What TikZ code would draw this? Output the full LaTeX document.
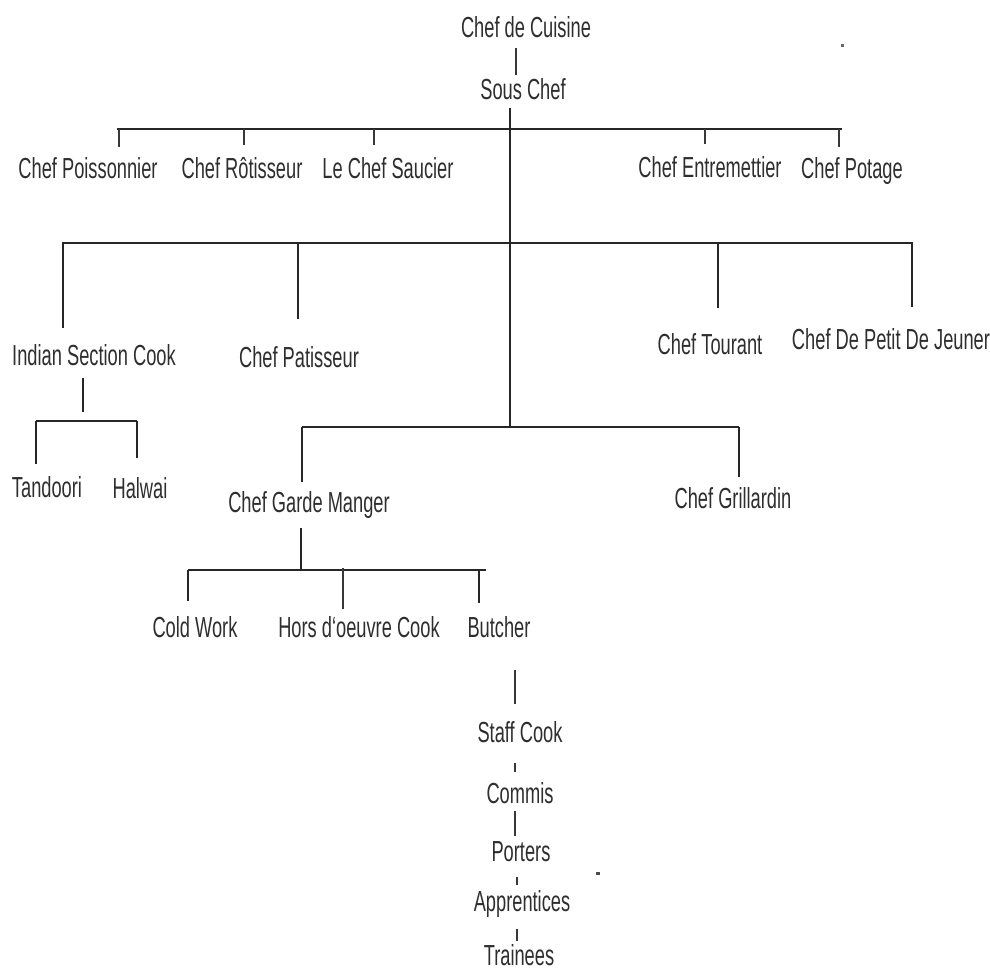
\documentclass[tikz,border=0pt]{standalone}
\usepackage{fontspec}
\setmainfont{Liberation Sans}[FakeStretch=0.63]
\begin{document}
\begin{tikzpicture}[x=1pt,y=-1pt,
  lbl/.style={anchor=base, inner sep=0pt, font=\fontsize{29}{30}\selectfont, text=black!82},
  ln/.style={line width=1.9pt, draw=black!85},
  thin/.style={line width=1.4pt, draw=black!78}]
\useasboundingbox (0,0) rectangle (990,971);

% ---- labels ----
\node[lbl] (cuisine) at (526,38) {Chef de Cuisine};
\node[lbl] (sous) at (523,100) {Sous Chef};

\node[lbl] (poiss) at (88,178) {Chef Poissonnier};
\node[lbl] (rotis) at (242,178) {Chef Rôtisseur};
\node[lbl] (saucier) at (388,178) {Le Chef Saucier};
\node[lbl] (entre) at (710,177) {Chef Entremettier};
\node[lbl] (potage) at (852,178) {Chef Potage};

\node[lbl] (indian) at (94,365) {Indian Section Cook};
\node[lbl] (patis) at (299,367) {Chef Patisseur};
\node[lbl] (tourant) at (710,354) {Chef Tourant};
\node[lbl] (petit) at (891,349) {Chef De Petit De Jeuner};

\node[lbl] (tandoori) at (47,497) {Tandoori};
\node[lbl] (halwai) at (140,498) {Halwai};

\node[lbl] (garde) at (309,512) {Chef Garde Manger};
\node[lbl] (grill) at (733,508) {Chef Grillardin};

\node[lbl] (cold) at (195,637) {Cold Work};
\node[lbl] (hors) at (359,637) {Hors d‘oeuvre Cook};
\node[lbl] (butcher) at (499,637) {Butcher};

\node[lbl] (staff) at (520,742) {Staff Cook};
\node[lbl] (commis) at (520,803) {Commis};
\node[lbl] (porters) at (521,861) {Porters};
\node[lbl] (appr) at (522,911) {Apprentices};
\node[lbl] (train) at (519,965) {Trainees};

% ---- junction points ----
\coordinate (top) at (516,0);
\coordinate (trunk) at (510,0);
\coordinate (j3) at (510,428);
\coordinate (b1l) at (117,129);
\coordinate (b1r) at (842,129);
\coordinate (b2l) at (62,243);
\coordinate (b2r) at (913,243);
\coordinate (b3l) at (302,427);
\coordinate (b3r) at (739,427);
\coordinate (b4l) at (36,421);
\coordinate (b4r) at (137,421);
\coordinate (b5l) at (188,570);
\coordinate (b5r) at (486,570);
\coordinate (chain) at (515,0);
\coordinate (chainb) at (517,0);

% ---- head of the kitchen ----
\draw[thin] ([yshift=-10pt]cuisine.base -| top) -- ([yshift=4pt]sous.north -| top);
\draw[ln] ([yshift=-8pt]sous.base -| trunk) -- (j3);

% ---- first row of stations ----
\draw[ln] (b1l) -- (b1r);
\draw[thin] (119,129) -- ([yshift=10pt]poiss.north -| 119,0);
\draw[thin] (244,129) -- ([yshift=12pt]rotis.north -| 244,0);
\draw[thin] (374,129) -- ([yshift=12pt]saucier.north -| 374,0);
\draw[thin] (705,129) -- ([yshift=12pt]entre.north -| 705,0);
\draw[thin] (839,129) -- ([yshift=10pt]potage.north -| 839,0);

% ---- second row of stations ----
\draw[ln] (b2l) -- (b2r);
\draw[ln] (63,243) -- ([yshift=16pt]indian.north -| 63,0);
\draw[ln] (298,243) -- ([yshift=27pt]patis.north -| 298,0);
\draw[ln] (718,243) -- ([yshift=25pt]tourant.north -| 718,0);
\draw[ln] (912,243) -- ([yshift=21pt]petit.north -| 912,0);

% ---- Indian section ----
\draw[ln] ([yshift=-13pt]indian.base -| 83,0) -- (83,412);
\draw[ln] (b4l) -- (b4r);
\draw[ln] (b4l) -- ([yshift=12pt]tandoori.north -| b4l);
\draw[ln] (b4r) -- ([yshift=19pt]halwai.north -| b4r);

% ---- garde manger and grill ----
\draw[ln] (b3l) -- (b3r);
\draw[ln] (b3l) -- ([yshift=9pt]garde.north -| b3l);
\draw[ln] (b3r) -- ([yshift=10pt]grill.north -| b3r);

\draw[ln] ([yshift=-16pt]garde.base -| 301,0) -- (301,570);
\draw[ln] (b5l) -- (b5r);
\draw[ln] (b5l) -- ([yshift=15pt]cold.north -| b5l);
\draw[thin] (343,568) -- ([yshift=7pt]hors.north -| 343,0);
\draw[ln] (479,570) -- ([yshift=13pt]butcher.north -| 479,0);

% ---- brigade ladder ----
\draw[thin] ([yshift=-33pt]butcher.base -| chain) -- ([yshift=17pt]staff.north -| chain);
\draw[thin] ([yshift=-21pt]staff.base -| chain) -- ([yshift=10pt]commis.north -| chain);
\draw[thin] ([yshift=-8pt]commis.base -| chain) -- ([yshift=5pt]porters.north -| chain);
\draw[thin] ([yshift=-16pt]porters.base -| chainb) -- ([yshift=5pt]appr.north -| chainb);
\draw[thin] ([yshift=-18pt]appr.base -| chainb) -- ([yshift=3pt]train.north -| chainb);

% ---- specks ----
\fill[black!60] (840.5,44.5) rectangle (843.5,47.5);
\fill[black!70] (596,872) rectangle (600,874.5);
\end{tikzpicture}
\end{document}
